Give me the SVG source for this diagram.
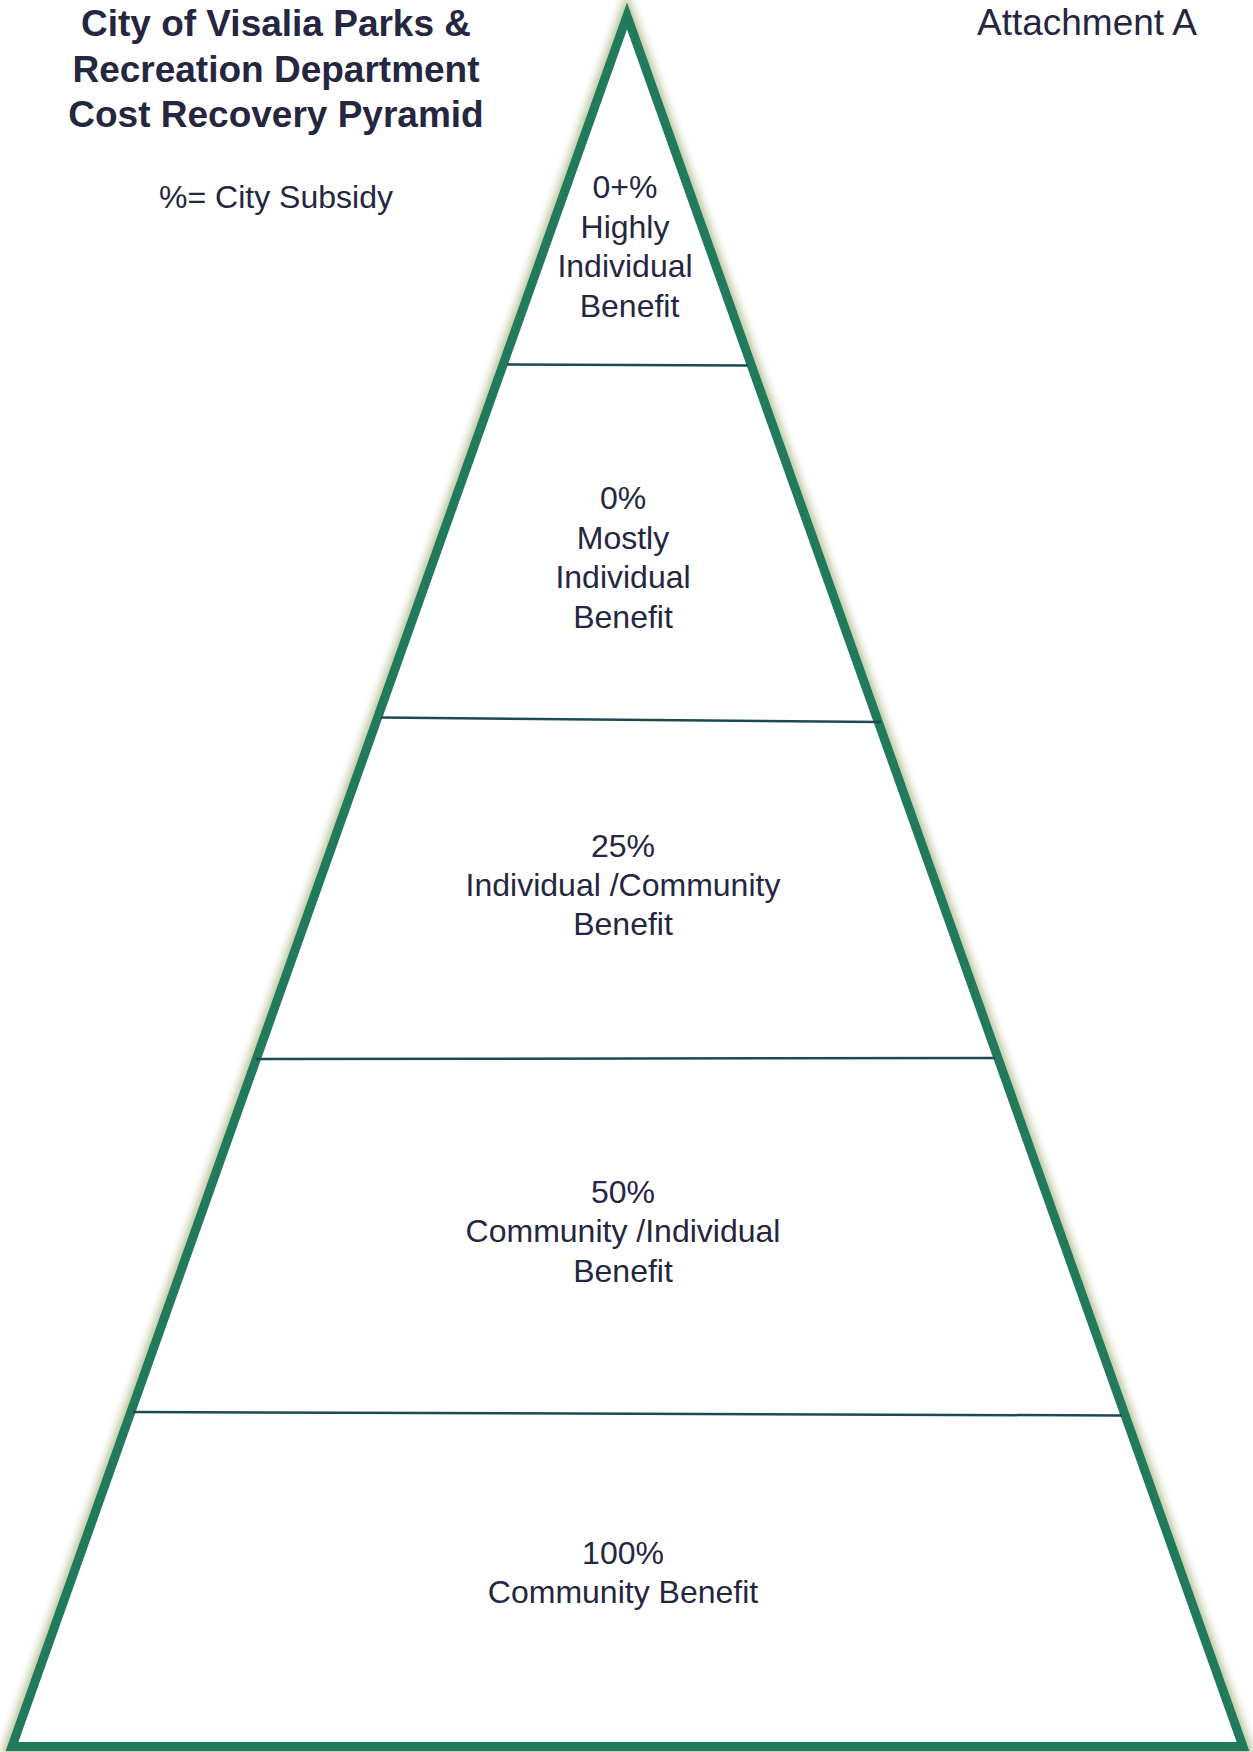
<svg xmlns="http://www.w3.org/2000/svg" width="1253" height="1752" viewBox="0 0 1253 1752">
<defs>
<style>
text{font-family:"Liberation Sans",Arial,sans-serif;fill:#25263f;text-anchor:middle}
.title{font-size:37px;font-weight:bold}
.body{font-size:32px}
.sep{stroke:#1b4a52;stroke-width:2.5;fill:none}
</style>
<filter id="glow" x="-5%" y="-5%" width="110%" height="110%"><feGaussianBlur stdDeviation="4"/></filter>
</defs>
<rect width="1253" height="1752" fill="#ffffff"/>
<g id="pyramid">
<polygon points="627,16 12,1746.5 1243,1746.5" fill="none" stroke="#b7c293" stroke-width="16" filter="url(#glow)" stroke-linejoin="miter"/>
<polygon points="627,16 12,1746.5 1243,1746.5" fill="#ffffff" stroke="#217a5c" stroke-width="9" stroke-linejoin="miter"/>
</g>
<g id="connectors">
<line class="sep" x1="507" y1="364.5" x2="748" y2="365.5"/>
<line class="sep" x1="381" y1="717.5" x2="881" y2="722"/>
<line class="sep" x1="256" y1="1059" x2="995" y2="1058"/>
<line class="sep" x1="133" y1="1412" x2="1122" y2="1415.5"/>
</g>
<g id="title">
<text class="title" x="276" y="36">City of Visalia Parks &amp;</text>
<text class="title" x="276" y="81.5">Recreation Department</text>
<text class="title" x="276" y="127">Cost Recovery Pyramid</text>
</g>
<g id="legend"><text class="body" x="276" y="208">%= City Subsidy</text></g>
<g id="attachment"><text x="1087" y="35" style="font-size:37px">Attachment A</text></g>
<g id="tier1">
<text class="body" x="625" y="198">0+%</text>
<text class="body" x="625" y="237.5">Highly</text>
<text class="body" x="625" y="277">Individual</text>
<text class="body" x="629.5" y="317">Benefit</text>
</g>
<g id="tier2">
<text class="body" x="623" y="509">0%</text>
<text class="body" x="623" y="549">Mostly</text>
<text class="body" x="623" y="588">Individual</text>
<text class="body" x="623" y="627.5">Benefit</text>
</g>
<g id="tier3">
<text class="body" x="623" y="856.5">25%</text>
<text class="body" x="623" y="895.5">Individual /Community</text>
<text class="body" x="623" y="935">Benefit</text>
</g>
<g id="tier4">
<text class="body" x="623" y="1203">50%</text>
<text class="body" x="623" y="1242">Community /Individual</text>
<text class="body" x="623" y="1282">Benefit</text>
</g>
<g id="tier5">
<text class="body" x="623" y="1563.5">100%</text>
<text class="body" x="623" y="1603">Community Benefit</text>
</g>
</svg>
